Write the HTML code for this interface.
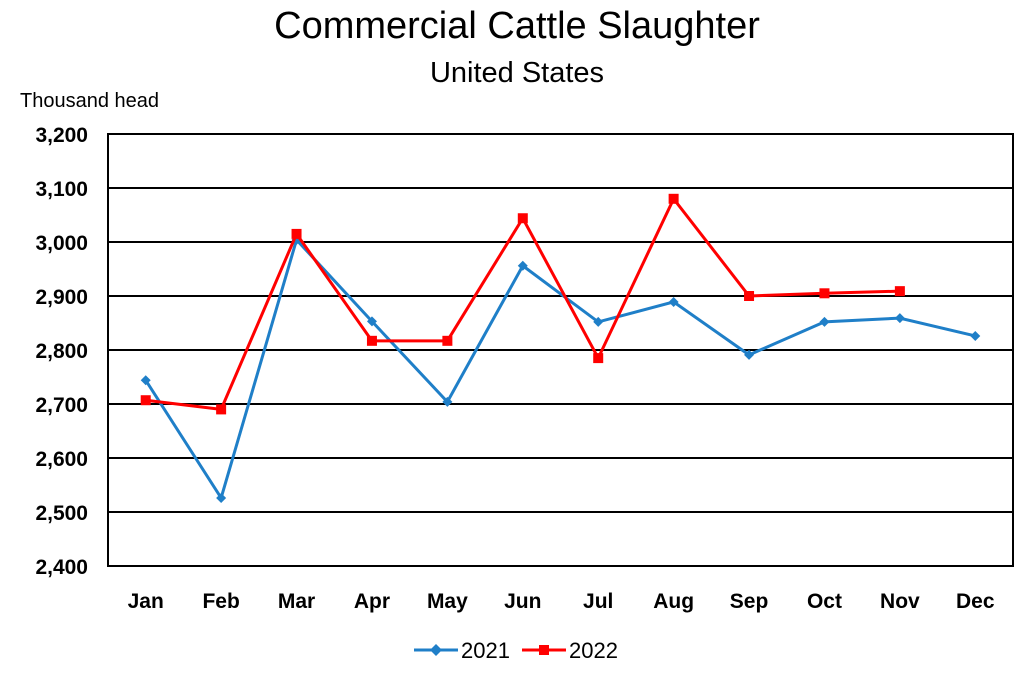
<!DOCTYPE html>
<html><head><meta charset="utf-8"><style>
body{margin:0;background:#fff;width:1024px;height:671px;overflow:hidden;font-family:"Liberation Sans",Arial,sans-serif}
</style></head><body>
<svg id="chart" width="1024" height="671" xmlns="http://www.w3.org/2000/svg">
<text x="517" y="38" font-size="38" text-anchor="middle" font-family="Liberation Sans, sans-serif">Commercial Cattle Slaughter</text>
<text x="517" y="82" font-size="29" text-anchor="middle" font-family="Liberation Sans, sans-serif">United States</text>
<text x="20" y="107" font-size="20" font-family="Liberation Sans, sans-serif">Thousand  head</text>
<g id="grid"></g><g id="ylabels"></g><g id="xlabels"></g><g id="series"></g>
<g>
<g><line x1="414" y1="650" x2="458" y2="650" stroke="#1f7fc8" stroke-width="3"/><path d="M436 644 L442 650 L436 656 L430 650Z" fill="#1f7fc8"/><text x="461" y="658" font-size="22">2021</text></g>
<g><line x1="522" y1="650" x2="566" y2="650" stroke="#ff0000" stroke-width="3"/><rect x="539" y="645" width="10" height="10" fill="#ff0000"/><text x="569" y="658" font-size="22">2022</text></g>
</g>
</svg>
<script>
const months=["Jan","Feb","Mar","Apr","May","Jun","Jul","Aug","Sep","Oct","Nov","Dec"];
const values2021=[2744,2526,3004,2853,2704,2956,2852,2889,2791,2852,2859,2826];
const values2022=[2707,2690,3015,2817,2817,3044,2785,3080,2900,2905,2909];
const yTicks=[2400,2500,2600,2700,2800,2900,3000,3100,3200];
const yTickLabels=["2,400","2,500","2,600","2,700","2,800","2,900","3,000","3,100","3,200"];
const L=108,R=1013,T=134,B=566,yMin=2400,yMax=3200;
const xs=i=>L+(R-L)/12*(i+0.5);
const ys=v=>B-(v-yMin)/(yMax-yMin)*(B-T);
const NS="http://www.w3.org/2000/svg";
function mk(tag,attrs,parent){const e=document.createElementNS(NS,tag);for(const k in attrs)e.setAttribute(k,attrs[k]);parent.appendChild(e);return e;}
const grid=document.getElementById('grid'),yl=document.getElementById('ylabels'),xl=document.getElementById('xlabels'),ser=document.getElementById('series');
yTicks.forEach((t,i)=>{
 const ln=mk('line',{x1:L,x2:R,y1:ys(t),y2:ys(t),stroke:'#000','stroke-width':2},grid);
 
 
 const tx=mk('text',{x:88,y:ys(t)+8,'font-size':21,'font-weight':'bold','text-anchor':'end'},yl);
 tx.textContent=yTickLabels[i];
 
 
});
const fr=mk('rect',{x:L,y:T,width:R-L,height:B-T,fill:'none',stroke:'#000','stroke-width':2},grid);


months.forEach((m,i)=>{
 const tx=mk('text',{x:xs(i),y:608,'font-size':21,'font-weight':'bold','text-anchor':'middle'},xl);
 tx.textContent=m;
 
 
});
function draw(vals,color,shape,name){
 const p=mk('polyline',{points:vals.map((v,i)=>xs(i)+','+ys(v)).join(' '),fill:'none',stroke:color,'stroke-width':3},ser);
 
 
 vals.forEach((v,i)=>{
  const x=xs(i),y=ys(v);let e;
  if(shape==='d')e=mk('path',{d:`M${x} ${y-5}L${x+5} ${y}L${x} ${y+5}L${x-5} ${y}Z`,fill:color},ser);
  else e=mk('rect',{x:x-5,y:y-5,width:10,height:10,fill:color},ser);
  
  
 });
}
draw(values2021,'#1f7fc8','d','2021');
draw(values2022,'#ff0000','s','2022');
</script>
</body></html>
